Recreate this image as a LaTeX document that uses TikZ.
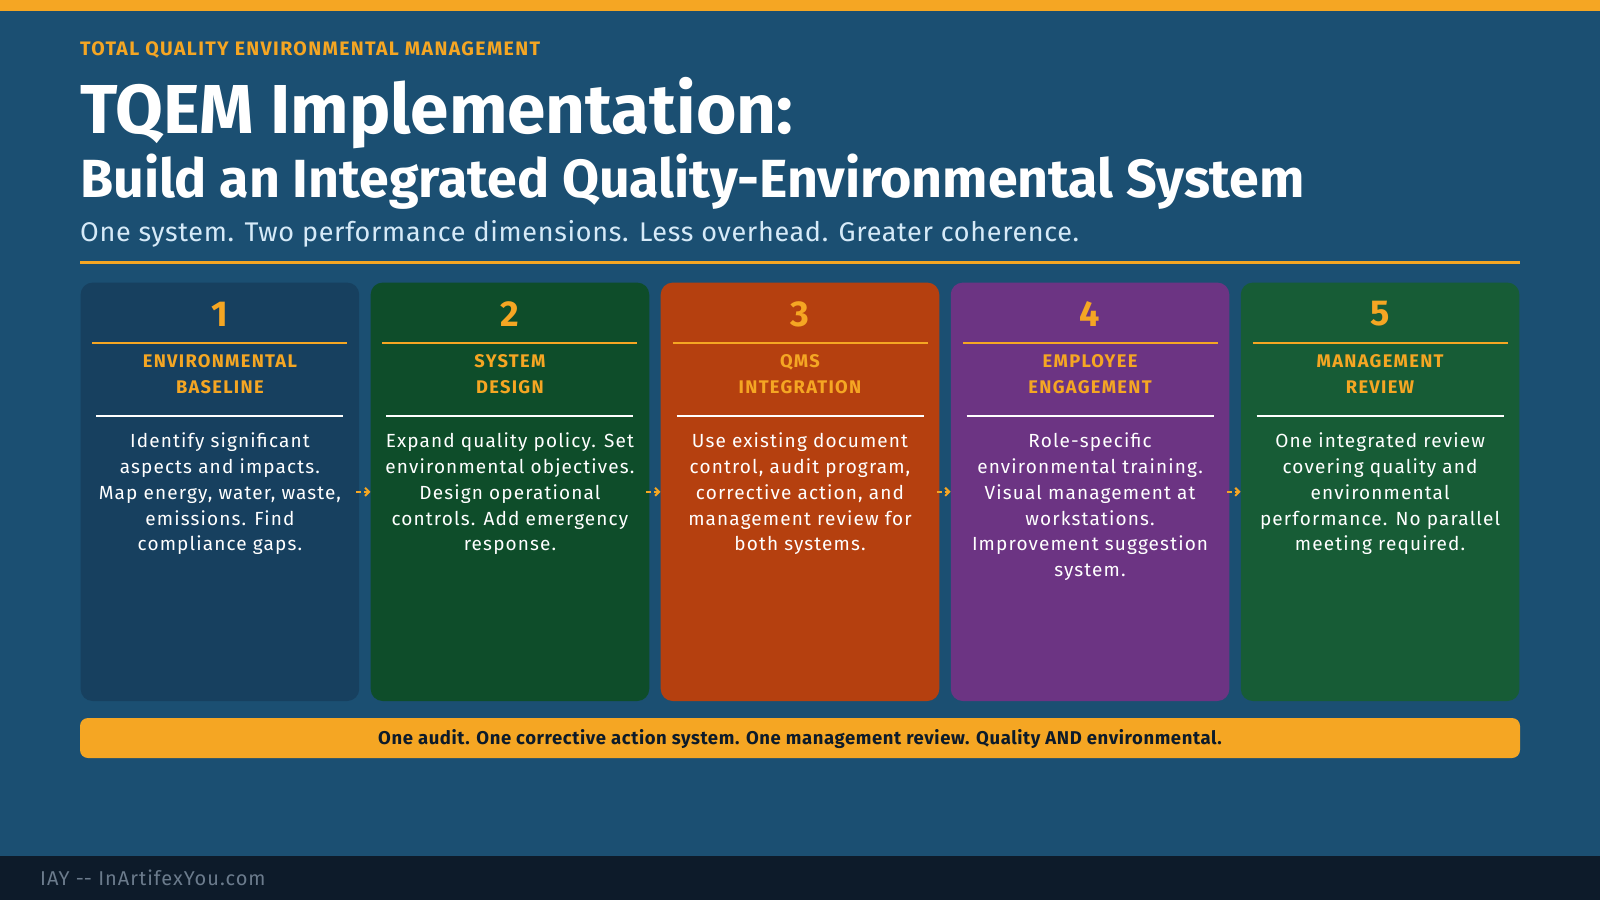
\documentclass[tikz,border=0pt]{standalone}
\usepackage{fontspec}
\setmainfont{Fira Sans}
\newfontfamily\bodyf[LetterSpace=6]{Fira Sans}
\newfontfamily\subf[LetterSpace=2.5]{Fira Sans}
\newfontfamily\headf[LetterSpace=7]{Fira Sans}
\newfontfamily\bannerf[LetterSpace=3.2]{Fira Sans}
\newfontfamily\footf[LetterSpace=5]{Fira Sans}
\usetikzlibrary{arrows.meta}
\definecolor{bg}{HTML}{1B4F72}
\definecolor{footbg}{HTML}{0D1B2A}
\definecolor{accent}{HTML}{F5A623}
\definecolor{subtxt}{HTML}{D6EAF8}
\definecolor{foottxt}{HTML}{6B7B8C}
\definecolor{cardA}{HTML}{17405F}
\definecolor{cardB}{HTML}{0E4D2A}
\definecolor{cardC}{HTML}{B5400F}
\definecolor{cardD}{HTML}{6C3483}
\definecolor{cardE}{HTML}{175C36}
\tikzset{
  card/.style={rectangle, rounded corners=12pt, minimum width=278.6pt, minimum height=418.4pt, inner sep=0pt, draw=none},
  numtxt/.style={text=accent, font=\bfseries\fontsize{36}{40}\selectfont, inner sep=0pt},
  headtxt/.style={anchor=north, text=accent, align=center, inner sep=0pt, font=\headf\bfseries\fontsize{18.3}{25.7}\selectfont},
  bodytxt/.style={anchor=north, text=white, align=center, inner sep=0pt, font=\bodyf\fontsize{19}{25.9}\selectfont},
  orule/.style={draw=accent, line width=2.5pt},
  wrule/.style={draw=white, line width=1.3pt},
  flow/.style={draw=accent, line width=2pt, dash pattern=on 5pt off 3pt, -{Straight Barb[length=4pt,width=8pt]}},
}
\begin{document}
\begin{tikzpicture}[x=1pt,y=-1pt]
\useasboundingbox (0,0) rectangle (1600,900);
\fill[bg] (0,0) rectangle (1600,900);
\fill[accent] (0,0) rectangle (1600,10.5);
\fill[footbg] (0,856) rectangle (1600,900);

\node[anchor=base west, inner sep=0pt, text=accent, font=\headf\bfseries\fontsize{19.5}{22}\selectfont] (kicker) at (80,55) {TOTAL QUALITY ENVIRONMENTAL MANAGEMENT};
\node[anchor=base west, inner sep=0pt, text=white, font=\bfseries\fontsize{69.3}{72}\selectfont] (title) at (80,133.7) {TQEM Implementation:};
\node[anchor=base west, inner sep=0pt, text=white, font=\bfseries\fontsize{53.7}{58}\selectfont] (title2) at (80,197) {Build an Integrated Quality-Environmental System};
\node[anchor=base west, inner sep=0pt, text=subtxt, font=\subf\fontsize{27}{30}\selectfont] (sub) at (80,241.8) {One system. Two performance dimensions. Less overhead. Greater coherence.};
\draw[accent, line width=3pt] (80,262) -- (1520,262);

\foreach \n/\col/\hd/\bd in {
1/cardA/{ENVIRONMENTAL\\BASELINE}/{Identify significant\\aspects and impacts.\\Map energy, water, waste,\\emissions. Find\\compliance gaps.},
2/cardB/{SYSTEM\\DESIGN}/{Expand quality policy. Set\\environmental objectives.\\Design operational\\controls. Add emergency\\response.},
3/cardC/{QMS\\INTEGRATION}/{Use existing document\\control, audit program,\\corrective action, and\\management review for\\both systems.},
4/cardD/{EMPLOYEE\\ENGAGEMENT}/{Role-specific\\environmental training.\\Visual management at\\workstations.\\Improvement suggestion\\system.},
5/cardE/{MANAGEMENT\\REVIEW}/{One integrated review\\covering quality and\\environmental\\performance. No parallel\\meeting required.}%
}{
  \pgfmathsetmacro\cx{219.9+(\n-1)*290.05}
  \node[card, fill=\col] (card\n) at (\cx,491.8) {};
  \node[numtxt] (num\n) at (\cx,314) {\n};
  \draw[orule] (\cx-127.5,343) -- (\cx+127.5,343);
  \node[headtxt] (head\n) at (\cx,349.2) {\strut\hd};
  \draw[wrule] (\cx-123.5,416) -- (\cx+123.5,416);
  \node[bodytxt] (body\n) at (\cx,429) {\strut\bd};
}
\foreach \a/\b in {1/2,2/3,3/4,4/5}{
  \draw[flow] ([xshift=-3pt]card\a.east) -- (card\b.west);
}

\node[rectangle, rounded corners=8pt, fill=accent, minimum width=1440pt, minimum height=40pt, inner sep=0pt] (banner) at (800,738) {};
\node[anchor=base, inner sep=0pt, text=footbg, font=\bannerf\bfseries\fontsize{18.5}{20}\selectfont] (bannertxt) at (800,744.5) {One audit. One corrective action system. One management review. Quality AND environmental.};

\node[anchor=base west, inner sep=0pt, text=foottxt, font=\footf\fontsize{20}{22}\selectfont] (foot) at (40,885) {IAY -\kern0pt- InArtifexYou.com};
\end{tikzpicture}
\end{document}
